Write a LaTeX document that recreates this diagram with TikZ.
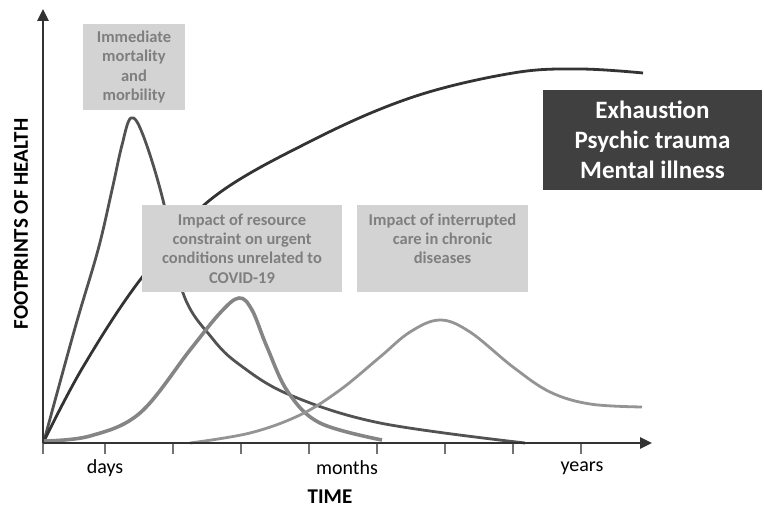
\documentclass[tikz,border=0pt]{standalone}
\usepackage{fontspec}
\setmainfont{Carlito}
\usetikzlibrary{arrows.meta}
\definecolor{axisgray}{HTML}{333333}
\definecolor{boxgray}{HTML}{D3D3D3}
\definecolor{boxtext}{HTML}{7F7F7F}
\definecolor{darkbox}{HTML}{404040}

\begin{document}
\begin{tikzpicture}[x=1pt,y=-1pt,
    curve/.style={line width=2.8pt,smooth,tension=0.6},
    graybox/.style={fill=boxgray,text=boxtext,align=center,inner sep=0pt,
      font=\bfseries\fontsize{16.5}{19.3}\selectfont},
    ticklabel/.style={font=\fontsize{20}{24}\selectfont,text=black}]
    \useasboundingbox (0,0) rectangle (764,508);

    % Curves
    \draw[curve,color=black!68] plot coordinates {(44,441) (75,328) (98,250) (112,190) (122,145) (131,118) (143,135) (163,200) (183,293) (212,338) (240,365) (290,395) (380,423) (525,443)};
    \draw[curve,color=axisgray] plot coordinates {(44,441) (83,367) (140,280) (210,200) (313,140) (413,97) (513,73) (580,69) (643,73)};
    \draw[curve,color=black!48,line width=3.6pt] plot coordinates {(44,441) (90,436) (140,413) (190,350) (220,313) (239,298) (252,310) (267,347) (288,392) (320,423) (382,440)};
    \draw[curve,color=black!42] plot coordinates {(190,443) (250,433) (300,415) (340,390) (380,357) (410,332) (440,320) (470,332) (513,367) (550,392) (590,404) (642,407)};

    % Boxes
    \node[graybox,minimum width=102pt,minimum height=86pt] (acute) at (134,67) {Immediate\\mortality\\and\\morbility};
    \node[graybox,minimum width=200pt,minimum height=87pt] (urgent) at (242,248.5) {Impact of resource\\constraint on urgent\\conditions unrelated to\\COVID-19};
    \node[graybox,minimum width=171pt,minimum height=87pt] (chronic) at (442.5,248.5) {Impact of interrupted\\care in chronic\\diseases\\\mbox{}};
    \node[fill=darkbox,text=white,align=center,inner sep=0pt,minimum width=219pt,minimum height=100pt,
      font=\bfseries\fontsize{25}{30}\selectfont] (mental) at (652.5,140) {Exhaustion\\Psychic trauma\\Mental illness};

    % Axes
    \coordinate (origin) at (43,443);
    \coordinate (ytip) at (43,9);
    \coordinate (xtip) at (652,443);
    \foreach \x in {43,105,173,241,309,377,445,513,581}
      \draw[line width=1.3pt,black!55] (\x,443) -- (\x,454);
    \draw[line width=2.6pt,axisgray,-{Triangle[length=12pt,width=11pt]}] (origin) -- (ytip);
    \draw[line width=2.6pt,axisgray,-{Triangle[length=12pt,width=11pt]}] (origin) -- (xtip);

    % Labels
    \node[ticklabel] (days) at (105,468) {days};
    \node[ticklabel] (months) at (347,468) {months};
    \node[ticklabel] (years) at (582,468) {years};
    \node[font=\bfseries\fontsize{21}{25}\selectfont] (xlabel) at (330,497) {TIME};
    \node[rotate=90,font=\bfseries\fontsize{21}{25}\selectfont] (ylabel) at (21,224) {FOOTPRINTS OF HEALTH};
\end{tikzpicture}
\end{document}
